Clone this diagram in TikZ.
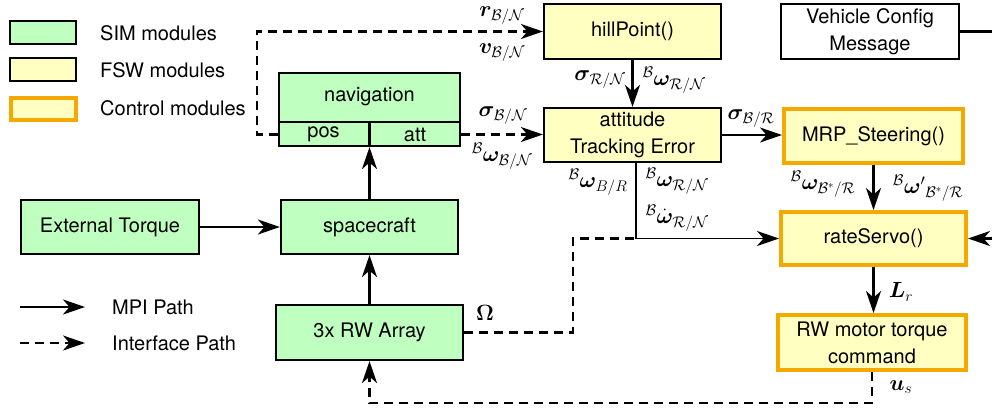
\documentclass[tikz,border=0pt]{standalone}
\usepackage{fix-cm}
\usepackage{amsmath,bm}
\usepackage{fontspec}
\setmainfont{TeX Gyre Heros}
\usetikzlibrary{arrows.meta}
\definecolor{simgreen}{RGB}{191,255,191}
\definecolor{fswyellow}{RGB}{255,255,194}
\definecolor{ctrlorange}{RGB}{245,168,0}
\newcommand{\tf}{\fontsize{20}{27}\selectfont}
\newcommand{\mf}{\fontsize{22}{26}\selectfont}
\tikzset{
  box/.style={draw, line width=2.2pt, inner sep=0pt, align=center, font=\tf},
  simbox/.style={box, fill=simgreen},
  fswbox/.style={box, fill=fswyellow},
  ctrlbox/.style={box, fill=fswyellow, draw=ctrlorange, line width=4pt},
  tip/.style={-{Stealth[length=22pt,width=15pt,inset=6.5pt]}},
  conn/.style={line width=2.2pt, tip},
  dline/.style={line width=2.2pt, dash pattern=on 9pt off 6pt},
  dconn/.style={dline, tip},
  lbl/.style={inner sep=0pt, font=\mf},
  txt/.style={inner sep=0pt, font=\tf, anchor=west},
}
\begin{document}
\begin{tikzpicture}[x=1pt,y=-1pt]
\useasboundingbox (0,0) rectangle (992,408);
% legend
\node[simbox, minimum width=66pt, minimum height=23pt] (lsim) at (43,32.5) {};
\node[fswbox, minimum width=66pt, minimum height=23pt] (lfsw) at (43,69.5) {};
\node[ctrlbox, minimum width=65pt, minimum height=22pt] (lctrl) at (43.5,109) {};
\node[txt] (tsim) at (100,33) {SIM modules};
\node[txt] (tfsw) at (100,70) {FSW modules};
\node[txt] (tctrl) at (100,108) {Control modules};
\coordinate (mpia) at (20,307);
\coordinate (mpib) at (85,307);
\coordinate (ifa) at (20,343);
\coordinate (ifb) at (85,343);
\draw[conn] (mpia) -- (mpib);
\draw[dconn] (ifa) -- (ifb);
\node[txt] (tmpi) at (112,307) {MPI Path};
\node[txt] (tif) at (112,343) {Interface Path};
% boxes
\node[fswbox, minimum width=177pt, minimum height=55pt] (hill) at (632.5,31.5) {hillPoint()};
\node[fswbox, minimum width=177pt, minimum height=54pt] (att) at (632.5,135) {attitude\\Tracking Error};
\node[box, minimum width=178pt, minimum height=55pt] (vcm) at (870,31.5) {Vehicle Config\\Message};
\node[ctrlbox, minimum width=179pt, minimum height=54pt] (mrp) at (873.5,136) {MRP\_Steering()};
\node[ctrlbox, minimum width=185pt, minimum height=53pt] (rs) at (873.5,238.5) {rateServo()};
\node[ctrlbox, minimum width=188pt, minimum height=55pt] (rwm) at (872,342.5) {RW motor torque\\command};
\node[simbox, minimum width=181pt, minimum height=73pt] (nav) at (369.5,109.5) {};
\node[simbox, minimum width=177pt, minimum height=54pt] (sc) at (369.5,227) {spacecraft};
\node[simbox, minimum width=187pt, minimum height=55pt] (rw) at (369.5,332.5) {3x RW Array};
\node[simbox, minimum width=178pt, minimum height=54pt] (et) at (110,227) {External Torque};
% navigation subdivisions
\coordinate (navrow) at (369.5,134.5);
\coordinate (navdiv) at (369.5,122);
\draw[line width=2.2pt] (nav.west |- navdiv) -- (nav.east |- navdiv);
\draw[line width=2.2pt] (navdiv) -- (nav.south);
\node[inner sep=0pt, font=\tf] (navt) at (369.5,97) {navigation};
\node[inner sep=0pt, font=\tf] (pos) at (323.5,134.5) {pos};
\node[inner sep=0pt, font=\tf] (natt) at (415,134.5) {att};
% connectors
\coordinate (c1) at (257,134.5);
\draw[dconn] (nav.west |- navrow) -- (c1) |- (hill.west);
\draw[dconn] (nav.east |- navrow) -- (att.west |- navrow);
\draw[conn] (hill.south) -- (att.north);
\draw[conn] (att.east) -- (att.east -| mrp.west);
\draw[conn] (mrp.south) -- (rs.north);
\draw[conn] (rs.south) -- (rs.south |- rwm.north);
\coordinate (j) at (636,238.5);
\draw[conn, line width=1.6pt] (att.south -| j) -- (j) -- (rs.west);
\coordinate (c2) at (573,332.5);
\coordinate (c3) at (573,238.5);
\draw[dline] (rw.east) -- (c2) -- (c3) -- (j);
\coordinate (c4) at (872,403);
\draw[dconn] (rwm.south) -- (c4) -| (rw.south);
\draw[conn] (rw.north) -- (sc.south);
\draw[conn] (sc.north) -- (nav.south);
\draw[conn] (et.east) -- (sc.west);
\coordinate (vcmout) at (992,31.5);
\draw[line width=2.2pt] (vcm.east) -- (vcmout);
\coordinate (rsin) at (992,238.5);
\draw[conn] (rsin) -- (rs.east);
% labels
\node[lbl] (l1) at (502,16) {$\bm r_{\mathcal B/\mathcal N}$};
\node[lbl] (l2) at (502,53) {$\bm v_{\mathcal B/\mathcal N}$};
\node[lbl] (l3) at (600,80) {$\bm\sigma_{\mathcal R/\mathcal N}$};
\node[lbl] (l4) at (674,80) {${}^{\mathcal B}\bm\omega_{\mathcal R/\mathcal N}$};
\node[lbl] (l5) at (503,116) {$\bm\sigma_{\mathcal B/\mathcal N}$};
\node[lbl] (l6) at (502,156) {${}^{\mathcal B}\bm\omega_{\mathcal B/\mathcal N}$};
\node[lbl] (l7) at (751,119) {$\bm\sigma_{\mathcal B/\mathcal R}$};
\node[lbl] (l8) at (598,182) {${}^{\mathcal B}\bm\omega_{B/R}$};
\node[lbl] (l9) at (677,181) {${}^{\mathcal B}\bm\omega_{\mathcal R/\mathcal N}$};
\node[lbl] (l10) at (677,218) {${}^{\mathcal B}\dot{\bm\omega}_{\mathcal R/\mathcal N}$};
\node[lbl] (l11) at (823,184) {${}^{\mathcal B}\bm\omega_{\mathcal B^*/\mathcal R}$};
\node[lbl] (l12) at (928,188) {${}^{\mathcal B}\bm\omega'{}_{\mathcal B^*/\mathcal R}$};
\node[lbl] (l13) at (901,292) {$\bm L_r$};
\node[lbl] (l14) at (901,387) {$\bm u_s$};
\node[lbl] (l15) at (485,313) {$\bm\Omega$};
\end{tikzpicture}
\end{document}
